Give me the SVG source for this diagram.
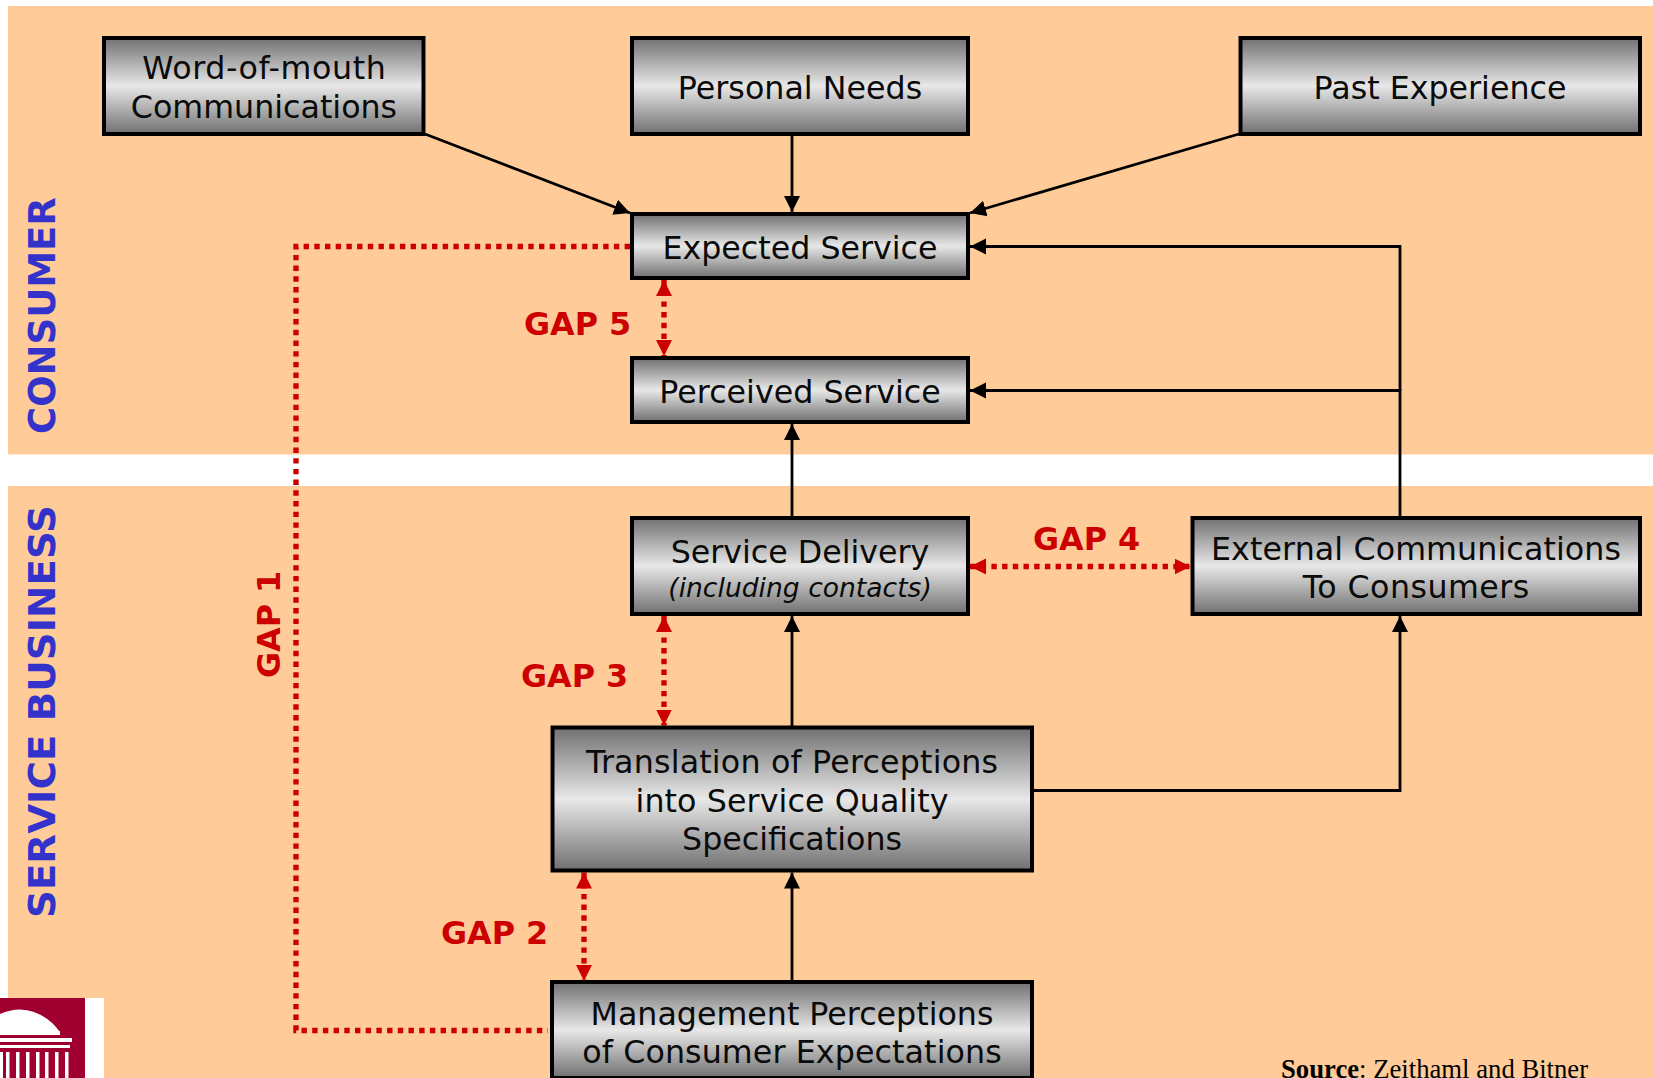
<svg xmlns="http://www.w3.org/2000/svg" width="1653" height="1078" viewBox="0 0 1653 1078">
<style>
.box{fill:url(#metal);stroke:#000;stroke-width:4}
.t{font-family:"DejaVu Sans",Verdana,sans-serif;font-size:31.7px;fill:#0a0a0a;text-anchor:middle}
.i{font-size:26.5px;font-style:italic}
.gap{font-family:"DejaVu Sans",Verdana,sans-serif;font-weight:bold;font-size:31.8px;fill:#cc0000}
.side{font-family:"DejaVu Sans",Verdana,sans-serif;font-weight:bold;font-size:37px;fill:#3333cc}
.c{fill:none;stroke:#000;stroke-width:2.8}
.a{marker-end:url(#ah)}
.r{fill:none;stroke:#cc0000;stroke-width:5.4;stroke-dasharray:5.4 5.3}
.rr{marker-start:url(#rs);marker-end:url(#re)}
.lw{fill:#fff}
</style>
<defs>
<linearGradient id="metal" x1="0" y1="0" x2="0" y2="1">
<stop offset="0" stop-color="#707070"/><stop offset="0.5" stop-color="#e8e8e8"/><stop offset="1" stop-color="#707070"/>
</linearGradient>
<marker id="ah" markerUnits="userSpaceOnUse" markerWidth="16" markerHeight="18" refX="16" refY="9" orient="auto"><path d="M0 1L16 9L0 17Z" fill="#000"/></marker>
<marker id="re" markerUnits="userSpaceOnUse" markerWidth="16" markerHeight="18" refX="16" refY="9" orient="auto"><path d="M0 1L16 9L0 17Z" fill="#cc0000"/></marker>
<marker id="rs" markerUnits="userSpaceOnUse" markerWidth="16" markerHeight="18" refX="0" refY="9" orient="auto"><path d="M16 1L0 9L16 17Z" fill="#cc0000"/></marker>
</defs>
<rect width="1653" height="1078" fill="#fff"/>
<g id="bands">
<rect x="8" y="6" width="1645" height="448.5" fill="#ffcc99"/>
<rect x="8" y="486" width="1645" height="592" fill="#ffcc99"/>
</g>
<g id="connectors">
<path class="c a" d="M425 134L630 213"/>
<path class="c a" d="M792 136V212"/>
<path class="c a" d="M1239 134L970 213"/>
<path class="c a" d="M1400 390.500V246.500H970"/>
<path class="c a" d="M1400 516V390.500H970"/>
<path class="c a" d="M792 516V424"/>
<path class="c a" d="M792 726V616"/>
<path class="c a" d="M792 981V872.500"/>
<path class="c a" d="M1034 790.500H1400V616"/>
<path class="r" d="M630 246.500H296V1030.500H548"/>
<path class="r rr" d="M664 280V356"/>
<path class="r rr" d="M664 616V725.500"/>
<path class="r rr" d="M970 566.500H1190.500"/>
<path class="r rr" d="M584 872.500V981"/>
</g>
<g id="word"><rect class="box" x="104" y="38" width="319.500" height="96"/><text class="t" x="264" y="79" textLength="243.500">Word-of-mouth</text><text class="t" x="264" y="118">Communications</text></g>
<g id="needs"><rect class="box" x="632" y="38" width="336" height="96"/><text class="t" x="800" y="99" textLength="244.500">Personal Needs</text></g>
<g id="past"><rect class="box" x="1240.500" y="38" width="399.500" height="96"/><text class="t" x="1440" y="99">Past Experience</text></g>
<g id="expected"><rect class="box" x="632" y="214" width="336" height="64"/><text class="t" x="800" y="259">Expected Service</text></g>
<g id="perceived"><rect class="box" x="632" y="358" width="336" height="64"/><text class="t" x="800" y="403" textLength="281.500">Perceived Service</text></g>
<g id="delivery"><rect class="box" x="632" y="518" width="336" height="96"/><text class="t" x="800" y="563" textLength="258.500">Service Delivery</text><text class="t i" x="800" y="597" textLength="263.500">(including contacts)</text></g>
<g id="external"><rect class="box" x="1192.500" y="518" width="447.500" height="96"/><text class="t" x="1416" y="560" textLength="410">External Communications</text><text class="t" x="1416" y="598" textLength="226.500">To Consumers</text></g>
<g id="translation"><rect class="box" x="552.500" y="727.500" width="479.500" height="143"/><text class="t" x="792" y="773" textLength="412">Translation of Perceptions</text><text class="t" x="792" y="812" textLength="313">into Service Quality</text><text class="t" x="792" y="850">Specifications</text></g>
<g id="management"><rect class="box" x="552" y="982" width="480" height="96"/><text class="t" x="792" y="1025">Management Perceptions</text><text class="t" x="792" y="1063" textLength="419.500">of Consumer Expectations</text></g>
<g id="labels">
<text class="gap" x="524" y="335">GAP 5</text>
<text class="gap" x="1033" y="550">GAP 4</text>
<text class="gap" x="521" y="687">GAP 3</text>
<text class="gap" x="441" y="944">GAP 2</text>
<text class="gap" transform="translate(280 678) rotate(-90)">GAP 1</text>
<text class="side" transform="translate(55 434) rotate(-90)">CONSUMER</text>
<text class="side" transform="translate(55 918) rotate(-90)" textLength="413" lengthAdjust="spacingAndGlyphs">SERVICE BUSINESS</text>
<text x="1281" y="1077.500" font-family="Liberation Serif,serif" font-size="26.700px" fill="#000"><tspan font-weight="bold">Source</tspan>: Zeithaml and Bitner</text>
</g>
<g id="logo">
<rect x="85" y="998" width="19" height="80" fill="#fff"/>
<rect x="0" y="998" width="85" height="80" fill="#a00030"/>
<path class="lw" d="M0 1014Q18 1006 34 1012Q50 1018 59 1031H0Z"/>
<rect class="lw" x="0" y="1031" width="60" height="4"/>
<rect class="lw" x="0" y="1038" width="72" height="4"/>
<rect class="lw" x="0" y="1045" width="70" height="3"/>
<rect class="lw" x="0" y="1052" width="3" height="26"/>
<rect class="lw" x="6" y="1052" width="3.500" height="26"/>
<rect class="lw" x="16" y="1052" width="3.500" height="26"/>
<rect class="lw" x="26" y="1052" width="3.500" height="26"/>
<rect class="lw" x="36" y="1052" width="3.500" height="26"/>
<rect class="lw" x="45" y="1052" width="3.500" height="26"/>
<rect class="lw" x="55" y="1052" width="3.500" height="26"/>
<rect class="lw" x="65" y="1052" width="3.500" height="26"/>
</g>
</svg>
